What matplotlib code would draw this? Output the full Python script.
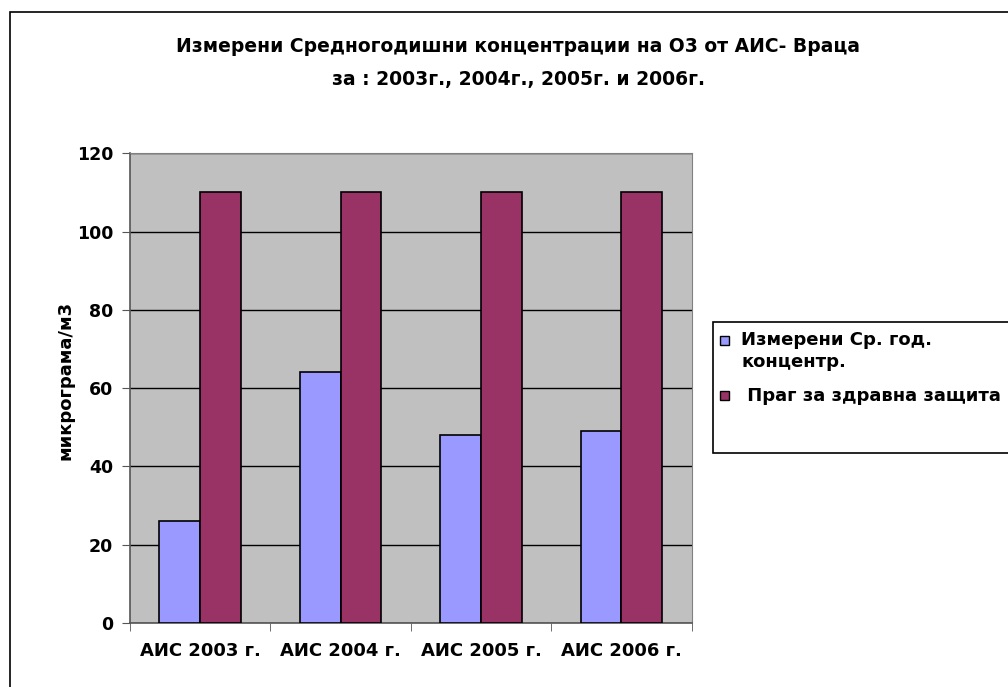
import numpy as np
import matplotlib
matplotlib.use('Agg')
import matplotlib.pyplot as plt
from matplotlib.patches import Rectangle, Patch
from matplotlib.legend_handler import HandlerPatch

plt.rcParams['font.family'] = ['DejaVu Sans']
plt.rcParams['font.weight'] = 'bold'

categories = ['АИС 2003 г.', 'АИС 2004 г.', 'АИС 2005 г.', 'АИС 2006 г.']
measured = [26, 64, 48, 49]
threshold = [110, 110, 110, 110]
series_names = ['Измерени Ср. год.\nконцентр.', ' Праг за здравна защита']
y_ticks = [0, 20, 40, 60, 80, 100, 120]

W, H = 1008, 687
fig = plt.figure(figsize=(W / 100, H / 100), dpi=100)

# outer chart frame (cut off at right and bottom like the original)
fig.patches.append(Rectangle((10 / W, -0.01), 1.0, 1 - 12 / H + 0.01,
                             transform=fig.transFigure, fill=False,
                             edgecolor='black', linewidth=1.2))

ax = fig.add_axes([130 / W, 1 - 623 / H, 561.7 / W, 469.7 / H])
ax.set_facecolor('#C0C0C0')

x = np.arange(len(categories))
bw = 0.29
ax.bar(x - bw / 2, measured, bw, color='#9999FF', edgecolor='black', linewidth=1.2, zorder=3)
ax.bar(x + bw / 2, threshold, bw, color='#993366', edgecolor='black', linewidth=1.2, zorder=3)

ax.set_xlim(-0.5, len(categories) - 0.5)
ax.set_ylim(0, 120)
ax.set_yticks(y_ticks)
ax.set_yticklabels([str(t) for t in y_ticks], fontsize=12.5, fontweight='bold')
ax.yaxis.grid(True, color='black', linewidth=1, zorder=1)
ax.set_axisbelow(True)

ax.set_xticks(x)
ax.set_xticklabels(categories, fontsize=13, fontweight='bold')
ax.tick_params(axis='x', length=0, pad=14)
ax.set_xticks(np.arange(len(categories) + 1) - 0.5, minor=True)
ax.tick_params(axis='x', which='minor', length=6, direction='out', color='#555555')
ax.tick_params(axis='y', length=6, direction='out', color='#555555', pad=6)

for s in ['top', 'right']:
    ax.spines[s].set_color('#808080')
for s in ['left', 'bottom']:
    ax.spines[s].set_color('#555555')
    ax.spines[s].set_linewidth(1.2)

ax.set_ylabel('микрограма/м3', fontsize=13, fontweight='bold')
ax.yaxis.set_label_coords((65 - 130) / 561.7, (623 - 380) / 469.7)
ax.yaxis.label.set_va('center')

fig.text(518 / W, 1 - 46 / H, 'Измерени Средногодишни концентрации на О3 от АИС- Враца',
         ha='center', va='center', fontsize=13.5, fontweight='bold')
fig.text(518 / W, 1 - 80 / H, 'за : 2003г., 2004г., 2005г. и 2006г.',
         ha='center', va='center', fontsize=13.5, fontweight='bold')


def square(shift):
    def make(legend, orig_handle, xdescent, ydescent, width, height, fontsize):
        s = 0.5 * fontsize
        return Rectangle((-xdescent + 0.1 * fontsize, -ydescent + (height - s) / 2 + shift * fontsize), s, s)
    return make


# legend box
fig.patches.append(Rectangle((713 / W, 1 - 453 / H), 400 / W, 131 / H,
                             transform=fig.transFigure, facecolor='white',
                             edgecolor='black', linewidth=1.2))
h1 = Patch(facecolor='#9999FF', edgecolor='black')
h2 = Patch(facecolor='#993366', edgecolor='black')
leg = fig.legend([h1, h2], series_names, loc='upper left',
                 bbox_to_anchor=(718 / W, 1 - 331 / H), frameon=False,
                 prop={'size': 13, 'weight': 'bold'}, handlelength=0.8,
                 handleheight=0.8, handletextpad=0.5, labelspacing=0.9,
                 borderaxespad=0, borderpad=0,
                 handler_map={h1: HandlerPatch(patch_func=square(0.65)),
                              h2: HandlerPatch(patch_func=square(0.0))})
for t in leg.get_texts():
    t.set_linespacing(1.3)

fig.savefig('out.png', dpi=100)
